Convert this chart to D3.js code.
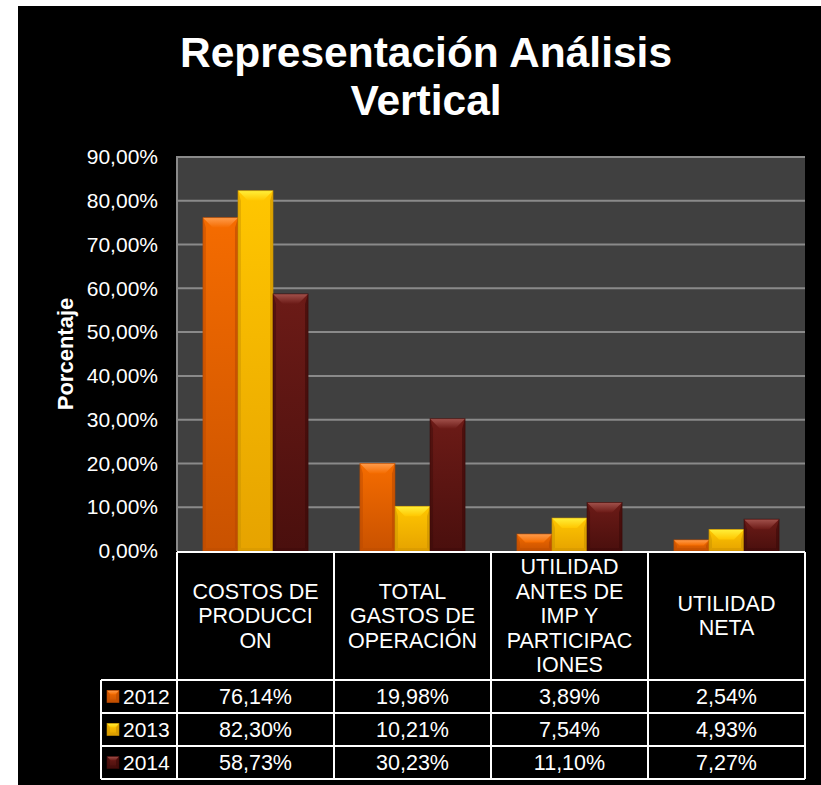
<!DOCTYPE html>
<html>
<head>
<meta charset="utf-8">
<script src="https://cdn.jsdelivr.net/npm/d3@7"></script>
<style>
  html, body { margin: 0; padding: 0; background: #ffffff; }
  svg { display: block; font-family: "Liberation Sans", Arial, sans-serif; }
</style>
</head>
<body>
<svg id="chart" width="821" height="785"></svg>
<script>
// ---- data ----
const titleLines = ["Representación Análisis", "Vertical"];
const axisTitle = "Porcentaje";
const categories = ["COSTOS DE PRODUCCION", "TOTAL GASTOS DE OPERACIÓN", "UTILIDAD ANTES DE IMP Y PARTICIPACIONES", "UTILIDAD NETA"];
const categoryLines = [
  ["COSTOS DE", "PRODUCCI", "ON"],
  ["TOTAL", "GASTOS DE", "OPERACIÓN"],
  ["UTILIDAD", "ANTES DE", "IMP Y", "PARTICIPAC", "IONES"],
  ["UTILIDAD", "NETA"]
];
const years = ["2012", "2013", "2014"];
const values2012 = [76.14, 19.98, 3.89, 2.54];
const values2013 = [82.30, 10.21, 7.54, 4.93];
const values2014 = [58.73, 30.23, 11.10, 7.27];
const yTicks = [0, 10, 20, 30, 40, 50, 60, 70, 80, 90];

const series = [
  { year: years[0], values: values2012, main: "#f56c00", dark: "#c95200", light: "#ff9c4c", edge: "#b84a00" },
  { year: years[1], values: values2013, main: "#ffc600", dark: "#e6a300", light: "#fff03a", edge: "#c89000" },
  { year: years[2], values: values2014, main: "#6c1b17", dark: "#4a0f0d", light: "#a2524c", edge: "#3a0a08" }
];

// ---- layout ----
const FONT = "'Liberation Sans', Arial, sans-serif";
const svg = d3.select("#chart");
const plot = { left: 177, right: 805, top: 157, bottom: 551 };
const table = { legendLeft: 101, headerBottom: 680, rowH: 33 };
const tableFont = 21.5;

const es = d3.formatLocale({ decimal: ",", thousands: ".", grouping: [3], currency: ["", "€"] });
const pct = v => es.format(".2f")(v) + "%";

const x0 = d3.scaleBand().domain(categories).range([plot.left, plot.right]);
const x1 = d3.scaleBand().domain(years).range([0, x0.bandwidth()]).paddingInner(0).paddingOuter(0.74);
const y = d3.scaleLinear().domain([0, 90]).range([plot.bottom, plot.top]);

// background
svg.append("rect").attr("x", 18).attr("y", 6).attr("width", 821 - 18).attr("height", 785 - 6).attr("fill", "#000");

// title
svg.append("text")
  .attr("x", 426).attr("y", 67)
  .attr("text-anchor", "middle").attr("fill", "#fff")
  .attr("font-size", 42.5).attr("font-weight", "bold")
  .selectAll("tspan").data(titleLines).join("tspan")
  .attr("x", 426).attr("dy", (d, i) => i === 0 ? 0 : 48).text(d => d);

// plot area
svg.append("rect").attr("x", plot.left).attr("y", plot.top)
  .attr("width", plot.right - plot.left).attr("height", plot.bottom - plot.top).attr("fill", "#404040");

// gridlines
svg.append("g").selectAll("line").data(yTicks.filter(t => t > 0)).join("line")
  .attr("x1", plot.left).attr("x2", plot.right)
  .attr("y1", d => y(d)).attr("y2", d => y(d))
  .attr("stroke", "#8a8a8a").attr("stroke-width", 2);

svg.append("line").attr("x1", plot.left).attr("x2", plot.left)
  .attr("y1", plot.top - 1).attr("y2", plot.bottom).attr("stroke", "#8a8a8a").attr("stroke-width", 2);

// y axis
const yAxis = d3.axisLeft(y).tickValues(yTicks).tickFormat(pct).tickSize(0).tickPadding(19);
const ga = svg.append("g").attr("transform", `translate(${plot.left},0)`).call(yAxis);
ga.select(".domain").remove();
ga.selectAll("text").attr("fill", "#fff").attr("font-size", 21).attr("font-family", FONT);

svg.append("text")
  .attr("transform", `translate(73,${(plot.top + plot.bottom) / 2}) rotate(-90)`)
  .attr("text-anchor", "middle").attr("fill", "#fff")
  .attr("font-size", 22).attr("font-weight", "bold").text(axisTitle);

// gradients
const defs = svg.append("defs");
series.forEach((s, i) => {
  const g = defs.append("linearGradient").attr("id", "body" + i).attr("x1", 0).attr("x2", 0).attr("y1", 0).attr("y2", 1);
  g.append("stop").attr("offset", "0%").attr("stop-color", s.main);
  g.append("stop").attr("offset", "100%").attr("stop-color", s.dark);
  const t = defs.append("linearGradient").attr("id", "top" + i).attr("x1", 0).attr("x2", 0).attr("y1", 0).attr("y2", 1);
  t.append("stop").attr("offset", "0%").attr("stop-color", s.light);
  t.append("stop").attr("offset", "100%").attr("stop-color", s.main);
});

// bevelled bar drawn from its rectangle
function bevel(g, x, yTop, w, h, i, s, b) {
  const bt = Math.min(b, h / 2);
  const bs = Math.min(3, w / 4);
  g.append("rect").attr("x", x).attr("y", yTop).attr("width", w).attr("height", h).attr("fill", `url(#body${i})`);
  // left and right edges
  g.append("polygon").attr("points", [[x, yTop], [x + bs, yTop + bt], [x + bs, yTop + h - bs], [x, yTop + h]].join(" "))
    .attr("fill", s.edge).attr("opacity", 0.45);
  g.append("polygon").attr("points", [[x + w, yTop], [x + w - bs, yTop + bt], [x + w - bs, yTop + h - bs], [x + w, yTop + h]].join(" "))
    .attr("fill", s.edge).attr("opacity", 0.6);
  // bottom edge
  g.append("polygon").attr("points", [[x, yTop + h], [x + bs, yTop + h - bs], [x + w - bs, yTop + h - bs], [x + w, yTop + h]].join(" "))
    .attr("fill", s.edge).attr("opacity", 0.35);
  // top facet
  g.append("polygon").attr("points", [[x, yTop], [x + w, yTop], [x + w - bt, yTop + bt], [x + bt, yTop + bt]].join(" "))
    .attr("fill", `url(#top${i})`);
  g.append("rect").attr("x", x).attr("y", yTop).attr("width", w).attr("height", h)
    .attr("fill", "none").attr("stroke", s.edge).attr("stroke-width", 0.8).attr("stroke-opacity", 0.7);
}

// bars
const barsG = svg.append("g");
categories.forEach((c, ci) => {
  series.forEach((s, si) => {
    const v = s.values[ci];
    const bx = x0(c) + x1(s.year);
    const by = y(v);
    bevel(barsG, bx, by, x1.bandwidth(), y(0) - by, si, s, 10);
  });
});

// data table
const tg = svg.append("g");
const lineStyle = sel => sel.attr("stroke", "#fff").attr("stroke-width", 2).attr("fill", "none");

// header cells
tg.selectAll("text.cat").data(categories).join("text")
  .attr("class", "cat").attr("fill", "#fff").attr("font-size", tableFont).attr("text-anchor", "middle")
  .each(function (c, ci) {
    const lines = categoryLines[ci];
    const cx = x0(c) + x0.bandwidth() / 2;
    const lh = 24.5;
    const cy = (plot.bottom + table.headerBottom) / 2 - (lines.length - 1) * lh / 2 + 7.5;
    d3.select(this).selectAll("tspan").data(lines).join("tspan")
      .attr("x", cx).attr("y", (d, i) => cy + i * lh).text(d => d);
  });

// value rows
series.forEach((s, si) => {
  const ry = table.headerBottom + si * table.rowH;
  categories.forEach((c, ci) => {
    tg.append("text").attr("x", x0(c) + x0.bandwidth() / 2).attr("y", ry + table.rowH / 2 + 7.5)
      .attr("text-anchor", "middle").attr("fill", "#fff").attr("font-size", tableFont).text(pct(s.values[ci]));
  });
  // legend key
  const kx = 107, ky = ry + table.rowH / 2 - 6, kw = 12;
  bevel(tg, kx, ky, kw, kw, si, s, 4);
  tg.append("text").attr("x", 123).attr("y", ry + table.rowH / 2 + 7.5)
    .attr("fill", "#fff").attr("font-size", 21).text(s.year);
});

// grid of table borders
const tableBottom = table.headerBottom + series.length * table.rowH;
categories.forEach(c => {
  tg.append("line").attr("x1", x0(c)).attr("x2", x0(c)).attr("y1", plot.bottom + 1).attr("y2", tableBottom).call(lineStyle);
});
tg.append("line").attr("x1", plot.right).attr("x2", plot.right).attr("y1", plot.bottom + 1).attr("y2", tableBottom).call(lineStyle);
tg.append("line").attr("x1", table.legendLeft).attr("x2", table.legendLeft).attr("y1", table.headerBottom).attr("y2", tableBottom).call(lineStyle);
tg.append("line").attr("x1", plot.left).attr("x2", plot.right).attr("y1", plot.bottom + 1).attr("y2", plot.bottom + 1).call(lineStyle);
for (let r = 0; r <= series.length; r++) {
  const yy = table.headerBottom + r * table.rowH;
  tg.append("line").attr("x1", table.legendLeft).attr("x2", plot.right).attr("y1", yy).attr("y2", yy).call(lineStyle);
}
</script>
</body>
</html>
